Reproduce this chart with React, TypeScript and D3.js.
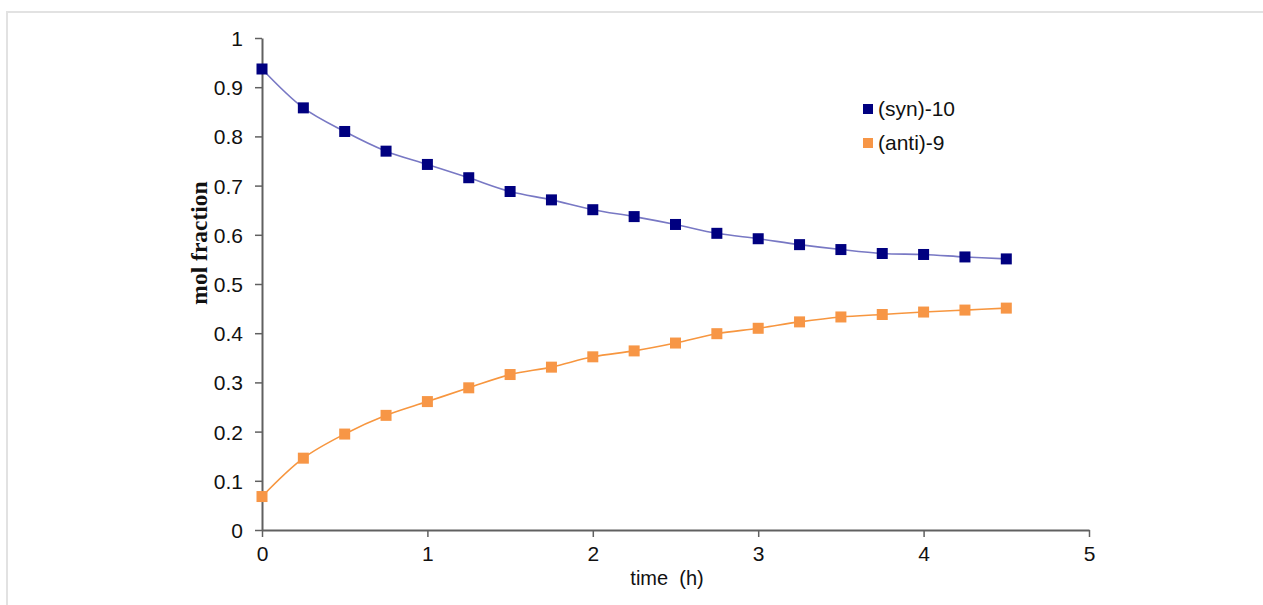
import React, { useEffect, useRef } from 'react';
import * as d3 from 'd3';

// time (h)
const times = [0, 0.25, 0.5, 0.75, 1, 1.25, 1.5, 1.75, 2, 2.25, 2.5, 2.75, 3, 3.25, 3.5, 3.75, 4, 4.25, 4.5];
const synValues = [0.937, 0.858, 0.810, 0.770, 0.743, 0.716, 0.688, 0.671, 0.651, 0.637, 0.621, 0.603, 0.592, 0.580, 0.570, 0.562, 0.560, 0.555, 0.551];
const antiValues = [0.068, 0.146, 0.195, 0.233, 0.261, 0.289, 0.316, 0.331, 0.352, 0.364, 0.380, 0.399, 0.410, 0.423, 0.433, 0.438, 0.443, 0.447, 0.451];
const xTicks = [0, 1, 2, 3, 4, 5];
const yTicks = [0, 0.1, 0.2, 0.3, 0.4, 0.5, 0.6, 0.7, 0.8, 0.9, 1];

const seriesList = [
  { name: '(syn)-10', values: synValues, marker: '#000080', line: '#7878c4' },
  { name: '(anti)-9', values: antiValues, marker: '#f79646', line: '#f7963f' },
];

const W = 1263;
const H = 605;
const margin = { left: 262, right: 174, top: 38, bottom: 75 };

function Chart() {
  const ref = useRef<SVGSVGElement>(null);

  useEffect(() => {
    const svg = d3.select(ref.current);
    svg.selectAll('*').remove();

    const x = d3.scaleLinear().domain([0, 5]).range([margin.left, W - margin.right]);
    const y = d3.scaleLinear().domain([0, 1]).range([H - margin.bottom, margin.top]);

    // frame
    svg.append('rect')
      .attr('x', 7).attr('y', 12)
      .attr('width', W + 20).attr('height', H + 20)
      .attr('fill', 'none')
      .attr('stroke', '#e2e2e2')
      .attr('stroke-width', 2);

    const xAxis = svg.append('g')
      .attr('transform', `translate(0,${y(0)})`)
      .call(d3.axisBottom(x).tickValues(xTicks).tickFormat(d3.format('d')).tickSizeInner(7).tickSizeOuter(0).tickPadding(9));

    const yAxis = svg.append('g')
      .attr('transform', `translate(${x(0)},0)`)
      .call(d3.axisLeft(y).tickValues(yTicks).tickFormat((d: any) => d === 0 || d === 1 ? String(d) : d3.format('.1f')(d)).tickSizeInner(7).tickSizeOuter(0).tickPadding(12));

    [xAxis, yAxis].forEach(g => {
      g.selectAll('path').attr('stroke', '#606060').attr('stroke-width', 2);
      g.selectAll('line').attr('stroke', '#606060').attr('stroke-width', 1.5);
      g.selectAll('text')
        .attr('fill', '#111')
        .attr('font-family', 'Liberation Sans, Arial, sans-serif')
        .attr('font-size', 21);
    });
    yAxis.selectAll('text').attr('dy', '0.36em');

    svg.append('text')
      .attr('x', 667).attr('y', 585)
      .attr('text-anchor', 'middle')
      .attr('font-family', 'Liberation Sans, Arial, sans-serif')
      .attr('font-size', 20)
      .attr('fill', '#111')
      .style('white-space', 'pre')
      .text('time  (h)');

    svg.append('text')
      .attr('transform', `translate(207,243) rotate(-90)`)
      .attr('text-anchor', 'middle')
      .attr('font-family', 'Liberation Serif, Times New Roman, serif')
      .attr('font-weight', 'bold')
      .attr('font-size', 23.5)
      .attr('fill', '#111')
      .text('mol fraction');

    const line = d3.line<number>()
      .x((d, i) => x(times[i]))
      .y(d => y(d))
      .curve(d3.curveCatmullRom.alpha(0.5));

    seriesList.forEach(s => {
      svg.append('path')
        .attr('d', line(s.values))
        .attr('fill', 'none')
        .attr('stroke', s.line)
        .attr('stroke-width', 1.6);

      svg.append('g').selectAll('rect')
        .data(s.values)
        .enter()
        .append('rect')
        .attr('x', (d, i) => x(times[i]) - 5.5)
        .attr('y', d => y(d) - 5.5)
        .attr('width', 11)
        .attr('height', 11)
        .attr('fill', s.marker);
    });

    // legend
    const legend = svg.append('g').attr('transform', 'translate(863,109)');
    seriesList.forEach((s, i) => {
      const g = legend.append('g').attr('transform', `translate(0,${i * 34})`);
      g.append('rect')
        .attr('x', 0).attr('y', -5)
        .attr('width', 10).attr('height', 10)
        .attr('fill', s.marker);
      g.append('text')
        .attr('x', 15).attr('y', 7)
        .attr('font-family', 'Liberation Sans, Arial, sans-serif')
        .attr('font-size', 21)
        .attr('fill', '#111')
        .text(s.name);
    });
  }, []);

  return (
    <svg ref={ref} width={W} height={H} style={{ position: 'absolute', left: 0, top: 0, display: 'block', background: '#fff' }} />
  );
}

export default function App() {
  return <Chart />;
}
